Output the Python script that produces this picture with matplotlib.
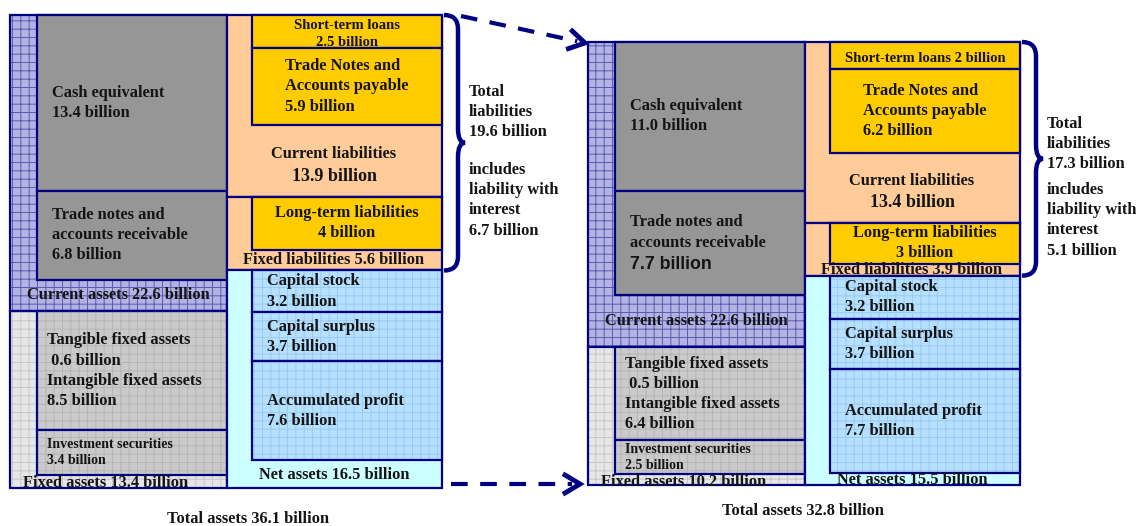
import numpy as np
import matplotlib
matplotlib.use("Agg")
import matplotlib.pyplot as plt
from matplotlib.patches import Rectangle, PathPatch
from matplotlib.path import Path

# values in billions, [before, after]
total_assets = [36.1, 32.8]
current_assets = [22.6, 22.6]
cash = [13.4, 11.0]
receivables = [6.8, 7.7]
fixed_assets = [13.4, 10.2]
tangible = [0.6, 0.5]
intangible = [8.5, 6.4]
investment = [3.4, 2.5]
current_liab = [13.9, 13.4]
short_loans = [2.5, 2]
payables = [5.9, 6.2]
fixed_liab = [5.6, 3.9]
long_term = [4, 3]
net_assets = [16.5, 15.5]
capital_stock = [3.2, 3.2]
capital_surplus = [3.7, 3.7]
accum_profit = [7.6, 7.7]
total_liab = [19.6, 17.3]
interest_liab = [6.7, 5.1]

W, H = 1136, 526
NAVY = "#000080"
TXT = "#141414"
SERIF = "Liberation Serif"
FS = 11.8
plt.rcParams["hatch.linewidth"] = 0.7

# panel placement in pixels: left, top, bottom
pan_left = [10, 588]
pan_top = [15, 42]
pan_bot = [488, 485]
PW = 432
loan_sep = ["\n", " "]

fig = plt.figure(figsize=(W / 100, H / 100), dpi=100)


def box(ax, x0, x1, y0, y1, fc, hatch=None, hc=None, lw=1.6):
    if hatch:
        ax.add_patch(Rectangle((x0, y0), x1 - x0, y1 - y0, facecolor=fc, edgecolor=hc,
                               hatch=hatch, lw=0, clip_on=False))
        fc = "none"
    ax.add_patch(Rectangle((x0, y0), x1 - x0, y1 - y0, facecolor=fc, edgecolor=NAVY,
                           lw=lw, clip_on=False))


def label(ax, x, y, s, size=FS, ha="left", family=SERIF, weight="bold"):
    ax.text(x, y, s, ha=ha, va="center", fontsize=size, fontweight=weight,
            family=family, color=TXT, linespacing=1.35, clip_on=False)


for i in range(2):
    tot = total_assets[i]
    ax = fig.add_axes([pan_left[i] / W, 1 - pan_bot[i] / H, PW / W,
                       (pan_bot[i] - pan_top[i]) / H])
    ax.set_xlim(0, PW)
    ax.set_ylim(tot, 0)
    ax.axis("off")
    s = (pan_bot[i] - pan_top[i]) / tot  # px per billion

    ca = current_assets[i]
    # assets column
    box(ax, 0, 217, 0, ca, "#B3B3E3", "++", "#5A5AB0")
    box(ax, 0, 217, ca, tot, "#E6E6E6", "++", "#C8C8C8")
    box(ax, 27, 217, 0, cash[i], "#969696")
    box(ax, 27, 217, cash[i], cash[i] + receivables[i], "#969696")
    t_end = ca + tangible[i] + intangible[i]
    box(ax, 27, 217, ca, t_end, "#CACACA", "++", "#B6B6B6")
    box(ax, 27, 217, t_end, t_end + investment[i], "#CACACA", "++", "#B6B6B6")

    label(ax, 42, cash[i] / 2, "Cash equivalent\n%.1f billion" % cash[i])
    if i == 0:
        label(ax, 42, cash[i] + receivables[i] / 2,
              "Trade notes and\naccounts receivable\n%.1f billion" % receivables[i])
    else:
        yc = cash[i] + receivables[i] / 2
        label(ax, 42, yc - 10 / s, "Trade notes and\naccounts receivable")
        label(ax, 42, yc + 22 / s, "%.1f billion" % receivables[i], 12.8,
              family="Liberation Sans", weight="bold")
    label(ax, 108, (cash[i] + receivables[i] + ca) / 2,
          "Current assets %.1f billion" % ca, ha="center")
    label(ax, 37, (ca + t_end) / 2,
          "Tangible fixed assets\n %.1f billion\nIntangible fixed assets\n%.1f billion"
          % (tangible[i], intangible[i]))
    label(ax, 37, t_end + investment[i] / 2,
          "Investment securities\n%.1f billion" % investment[i], 10)
    label(ax, 13, (t_end + investment[i] + tot) / 2 + 2 / s,
          "Fixed assets %.1f billion" % fixed_assets[i])

    # liabilities column
    cl = current_liab[i]
    fl_end = cl + fixed_liab[i]
    box(ax, 217, PW, 0, cl, "#FFCC99")
    box(ax, 217, PW, cl, fl_end, "#FFCC99")
    box(ax, 217, PW, fl_end, tot, "#CCFFFF")
    sl = short_loans[i]
    box(ax, 242, PW, 0, sl, "#FFCC00")
    box(ax, 242, PW, sl, sl + payables[i], "#FFCC00")
    box(ax, 242, PW, cl, cl + long_term[i], "#FFCC00")
    y = fl_end
    for v in (capital_stock[i], capital_surplus[i], accum_profit[i]):
        box(ax, 242, PW, y, y + v, "#B5E0FF", "++", "#9CCAF0")
        y += v

    label(ax, 337, sl / 2 + 2.5 / s, "Short-term loans%s%g billion" % (loan_sep[i], sl),
          10.5, ha="center")
    label(ax, 275, sl + payables[i] / 2,
          "Trade Notes and\nAccounts payable\n%.1f billion" % payables[i])
    yc = (sl + payables[i] + cl) / 2
    label(ax, 324, yc - 7 / s, "Current liabilities", ha="center")
    label(ax, 324, yc + 15 / s, "%.1f billion" % cl, 13, ha="center")
    label(ax, 337, cl + long_term[i] / 2,
          "Long-term liabilities\n%g billion" % long_term[i], ha="center")
    label(ax, 324, (cl + long_term[i] + fl_end) / 2,
          "Fixed liabilities %.1f billion" % fixed_liab[i], ha="center")
    y = fl_end
    label(ax, 257, y + capital_stock[i] / 2, "Capital stock\n%.1f billion" % capital_stock[i])
    y += capital_stock[i]
    label(ax, 257, y + capital_surplus[i] / 2,
          "Capital surplus\n%.1f billion" % capital_surplus[i])
    y += capital_surplus[i]
    label(ax, 257, y + accum_profit[i] / 2,
          "Accumulated profit\n%.1f billion" % accum_profit[i])
    y += accum_profit[i]
    label(ax, 324, (y + tot) / 2 + 1 / s, "Net assets %.1f billion" % net_assets[i],
          ha="center")

    # brace over total liabilities
    r = 14 / s
    mid = fl_end / 2
    x0, x1, xt = 434, 448, 455
    verts = [(x0, 0), (x1, 0), (x1, r), (x1, mid - r), (x1, mid), (xt, mid),
             (x1, mid), (x1, mid + r), (x1, fl_end - r), (x1, fl_end), (x0, fl_end)]
    codes = [Path.MOVETO, Path.CURVE3, Path.CURVE3, Path.LINETO, Path.CURVE3, Path.CURVE3,
             Path.CURVE3, Path.CURVE3, Path.LINETO, Path.CURVE3, Path.CURVE3]
    ax.add_patch(PathPatch(Path(verts, codes), facecolor="none", edgecolor=NAVY, lw=3.2,
                           clip_on=False))

    side_x = pan_left[i] + 459
    ov_y = [(84, 162), (116, 182)][i]
    fig.text(side_x / W, 1 - ov_y[0] / H,
             "Total\nliabilities\n%.1f billion" % total_liab[i], ha="left", va="top",
             fontsize=FS, fontweight="bold", family=SERIF, color=TXT, linespacing=1.35)
    fig.text(side_x / W, 1 - ov_y[1] / H,
             "includes\nliability with\ninterest\n%.1f billion" % interest_liab[i],
             ha="left", va="top", fontsize=FS, fontweight="bold", family=SERIF,
             color=TXT, linespacing=1.35)

    fig.text([248, 803][i] / W, 1 - [519, 511][i] / H,
             "Total assets %.1f billion" % tot, ha="center", va="center",
             fontsize=FS, fontweight="bold", family=SERIF, color=TXT)

# dashed arrows between panels
ov = fig.add_axes([0, 0, 1, 1])
ov.set_xlim(0, W)
ov.set_ylim(H, 0)
ov.axis("off")
for (sx, sy), (tx, ty) in [((461, 16), (585, 43)), ((451, 484), (580, 484))]:
    d = np.array([tx - sx, ty - sy], float)
    d /= np.hypot(*d)
    n = np.array([-d[1], d[0]])
    ex, ey = np.array([tx, ty]) - d * 8
    ov.plot([sx, ex], [sy, ey], color=NAVY, lw=3, ls=(0, (4, 3)), solid_capstyle="butt",
            dash_capstyle="butt")
    a = np.array([tx, ty]) - d * 15 + n * 9
    b = np.array([tx, ty]) - d * 15 - n * 9
    ov.plot([a[0], tx, b[0]], [a[1], ty, b[1]], color=NAVY, lw=3.5,
            solid_joinstyle="miter")

fig.savefig("out.png", dpi=100)
